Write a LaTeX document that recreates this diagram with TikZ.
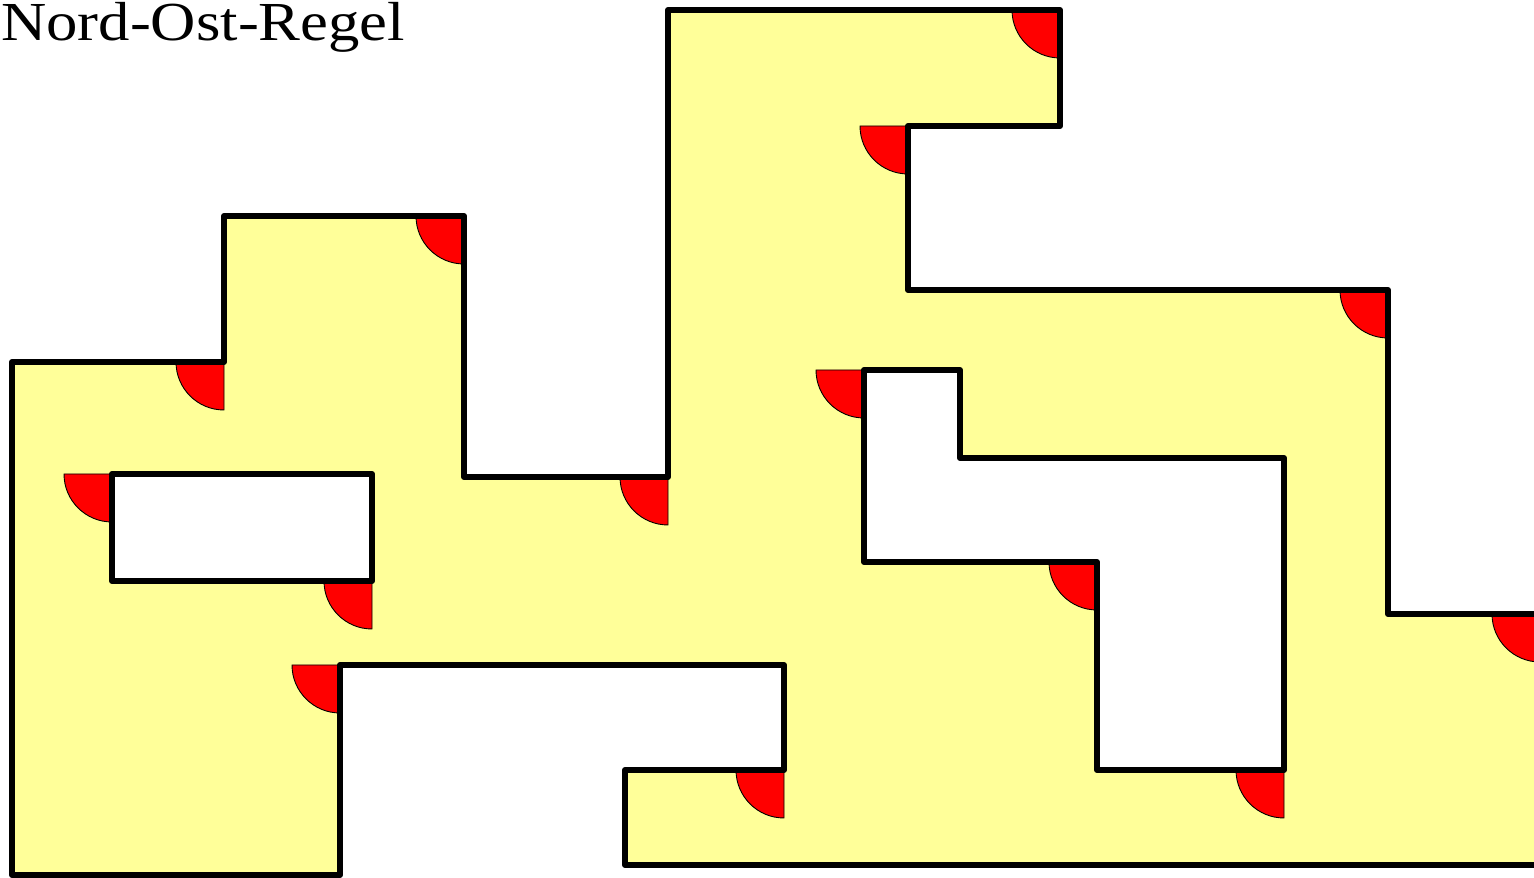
\documentclass[tikz,border=0pt]{standalone}
\usepackage{fontspec}
\setmainfont{Liberation Serif}
\definecolor{area}{RGB}{255,255,153}
\definecolor{mark}{RGB}{255,0,0}
\tikzset{
  wall/.style={line width=6pt, line join=round, line cap=round},
  region/.style={fill=area, even odd rule},
  marker/.style={fill=mark, draw=black, line width=0.9pt},
}
\begin{document}
\begin{tikzpicture}[x=1pt,y=1pt]
\useasboundingbox (0,0) rectangle (1534,878);
\clip (0,0) rectangle (1534,878);
% outer boundary and holes
\path[region] (12,516) -- (224,516) -- (224,662) -- (464,662) -- (464,401) -- (668,401) -- (668,868) -- (1060,868) -- (1060,752) -- (908,752) -- (908,588) -- (1388,588) -- (1388,264) -- (1540,264) -- (1540,13) -- (625,13) -- (625,108) -- (784,108) -- (784,213) -- (340,213) -- (340,3) -- (12,3) -- cycle
  (112,404) -- (372,404) -- (372,297) -- (112,297) -- cycle
  (864,508) -- (960,508) -- (960,420) -- (1284,420) -- (1284,108) -- (1097,108) -- (1097,316) -- (864,316) -- cycle;
% north-east corner markers
\foreach \c in {(1060,868),(908,752),(464,662),(224,516),(1388,588),(864,508),(112,404),(668,401),(372,297),(340,213),(1097,316),(1540,264),(784,108),(1284,108)}{
  \draw[marker] \c -- ++(-48,0) arc[start angle=180, end angle=270, radius=48] -- cycle;
}
\draw[wall] (12,516) -- (224,516) -- (224,662) -- (464,662) -- (464,401) -- (668,401) -- (668,868) -- (1060,868) -- (1060,752) -- (908,752) -- (908,588) -- (1388,588) -- (1388,264) -- (1540,264) -- (1540,13) -- (625,13) -- (625,108) -- (784,108) -- (784,213) -- (340,213) -- (340,3) -- (12,3) -- cycle;
\draw[wall] (112,404) -- (372,404) -- (372,297) -- (112,297) -- cycle;
\draw[wall] (864,508) -- (960,508) -- (960,420) -- (1284,420) -- (1284,108) -- (1097,108) -- (1097,316) -- (864,316) -- cycle;
\node[anchor=base west, inner sep=0pt, text height=37pt, text depth=12pt, font=\fontsize{55}{60}\selectfont] (title) at (1,837) {\scalebox{1.14}[1]{Nord-Ost-Regel}};
\end{tikzpicture}
\end{document}
